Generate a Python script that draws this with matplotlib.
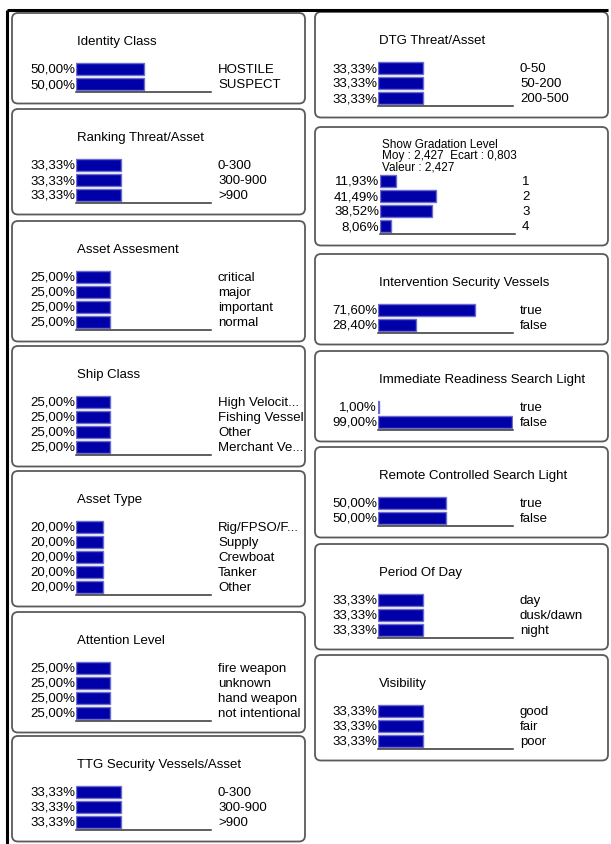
import matplotlib
matplotlib.use("Agg")
import matplotlib.pyplot as plt
from matplotlib.patches import FancyBboxPatch

plt.rcParams['font.family'] = ['Liberation Sans', 'DejaVu Sans']

# node data: title, states, probabilities (%)
identity_states = ["HOSTILE", "SUSPECT"]
identity_vals = [50.00, 50.00]
ranking_states = ["0-300", "300-900", ">900"]
ranking_vals = [33.33, 33.33, 33.33]
asset_ass_states = ["critical", "major", "important", "normal"]
asset_ass_vals = [25.00, 25.00, 25.00, 25.00]
ship_states = ["High Velocit...", "Fishing Vessel", "Other", "Merchant Ve..."]
ship_vals = [25.00, 25.00, 25.00, 25.00]
asset_type_states = ["Rig/FPSO/F...", "Supply", "Crewboat", "Tanker", "Other"]
asset_type_vals = [20.00, 20.00, 20.00, 20.00, 20.00]
attention_states = ["fire weapon", "unknown", "hand weapon", "not intentional"]
attention_vals = [25.00, 25.00, 25.00, 25.00]
ttg_states = ["0-300", "300-900", ">900"]
ttg_vals = [33.33, 33.33, 33.33]

dtg_states = ["0-50", "50-200", "200-500"]
dtg_vals = [33.33, 33.33, 33.33]
gradation_states = ["1", "2", "3", "4"]
gradation_vals = [11.93, 41.49, 38.52, 8.06]
gradation_extra = ["Moy : 2,427  Ecart : 0,803", "Valeur : 2,427"]
intervention_states = ["true", "false"]
intervention_vals = [71.60, 28.40]
readiness_states = ["true", "false"]
readiness_vals = [1.00, 99.00]
remote_states = ["true", "false"]
remote_vals = [50.00, 50.00]
period_states = ["day", "dusk/dawn", "night"]
period_vals = [33.33, 33.33, 33.33]
visibility_states = ["good", "fair", "poor"]
visibility_vals = [33.33, 33.33, 33.33]

left_nodes = [
    ("Identity Class", identity_states, identity_vals, None),
    ("Ranking Threat/Asset", ranking_states, ranking_vals, None),
    ("Asset Assesment", asset_ass_states, asset_ass_vals, None),
    ("Ship Class", ship_states, ship_vals, None),
    ("Asset Type", asset_type_states, asset_type_vals, None),
    ("Attention Level", attention_states, attention_vals, None),
    ("TTG Security Vessels/Asset", ttg_states, ttg_vals, None),
]
right_nodes = [
    ("DTG Threat/Asset", dtg_states, dtg_vals, None),
    ("Show Gradation Level", gradation_states, gradation_vals, gradation_extra),
    ("Intervention Security Vessels", intervention_states, intervention_vals, None),
    ("Immediate Readiness Search Light", readiness_states, readiness_vals, None),
    ("Remote Controlled Search Light", remote_states, remote_vals, None),
    ("Period Of Day", period_states, period_vals, None),
    ("Visibility", visibility_states, visibility_vals, None),
]

# layout (pixels)
W, H = 611, 845
left_tops = [14, 110, 222, 347, 472, 613, 737]
right_tops = [13, 128, 255, 352, 448, 545, 656]
BAR_W = 135
PITCH = 15
FS = 9.5
BAR_BLUE = '#0000a8'
BAR_EDGE = '#6c6cd0'

fig = plt.figure(figsize=(W / 100, H / 100), dpi=100)
ax = fig.add_axes([0, 0, 1, 1])
ax.set_xlim(0, W)
ax.set_ylim(H, 0)
ax.axis('off')

# window frame lines
ax.plot([7, 608], [11, 11], color='black', lw=2.2, solid_capstyle='butt')
ax.plot([7, 7], [11, H], color='black', lw=2.2, solid_capstyle='butt')


def draw_node(top, bx0, bx1, bar_x0, title, states, vals, extra):
    n = len(states)
    if extra:
        # title + summary lines packed together
        ax.text(bar_x0 + 2, top + 17, title, fontsize=8.5, va='center', ha='left')
        for k, line in enumerate(extra):
            ax.text(bar_x0 + 2, top + 28 + 11 * k, line, fontsize=8.5,
                    va='center', ha='left')
        first = top + 54
    else:
        ax.text(bar_x0 + 1, top + 28, title, fontsize=FS, va='center', ha='left')
        first = top + 56
    baseline = first + PITCH * (n - 0.5)
    bottom = baseline + 12
    box = FancyBboxPatch((bx0, top), bx1 - bx0, bottom - top,
                         boxstyle="round,pad=0,rounding_size=6",
                         fc='white', ec='#5a5a5a', lw=1.3)
    ax.add_patch(box)

    # bar area as its own axes, 0-100 %
    y_top = first - PITCH / 2
    bax = fig.add_axes([bar_x0 / W, 1 - baseline / H, BAR_W / W, (baseline - y_top) / H])
    bax.set_xlim(0, 100)
    bax.set_ylim(n - 0.5, -0.5)
    bax.barh(range(n), vals, height=0.82, color=BAR_BLUE, edgecolor=BAR_EDGE, lw=1)
    for s in ['top', 'right', 'left']:
        bax.spines[s].set_visible(False)
    bax.spines['bottom'].set_color('#333333')
    bax.spines['bottom'].set_linewidth(1.1)
    bax.set_xticks([])
    bax.set_yticks([])
    bax.patch.set_alpha(0)

    for i, (s, v) in enumerate(zip(states, vals)):
        yc = first + PITCH * i
        lab = f"{v:.2f}".replace('.', ',') + '%'
        ax.text(bar_x0 - 1, yc, lab, fontsize=FS, va='center', ha='right')
        ax.text(bar_x0 + 142, yc, s, fontsize=FS, va='center', ha='left')


for top, (title, states, vals, extra) in zip(left_tops, left_nodes):
    draw_node(top, 12, 305, 76, title, states, vals, extra)

for top, (title, states, vals, extra) in zip(right_tops, right_nodes):
    bx = 380 if extra else 378
    draw_node(top, 315, 608, bx, title, states, vals, extra)

fig.savefig("out.png", dpi=100)
